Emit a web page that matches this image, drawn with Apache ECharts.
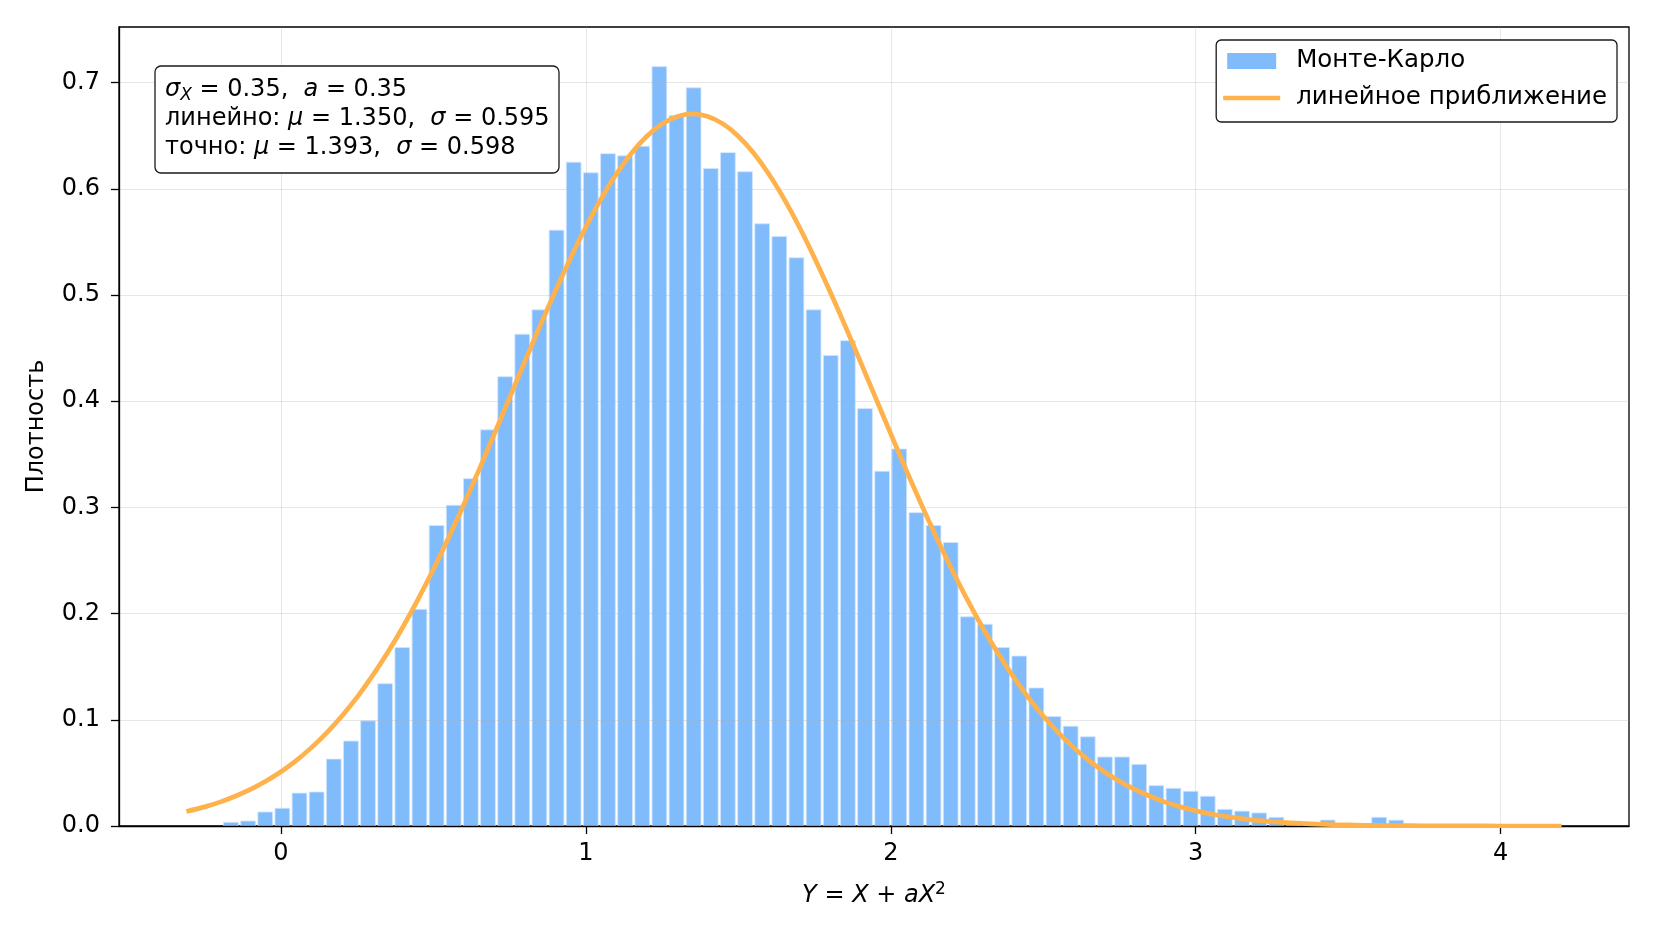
<!DOCTYPE html>
<html>
<head>
<meta charset="utf-8">
<title>Монте-Карло и линейное приближение</title>
<script src="https://cdn.jsdelivr.net/npm/echarts@6/dist/echarts.min.js"></script>
<style>
  html, body { margin: 0; padding: 0; background: #fff; }
  #chart { width: 1656px; height: 936px; }
</style>
</head>
<body>
<div id="chart"></div>
<script>
// гистограмма: равные интервалы от binStart шириной binWidth
const binStart = -0.192
const binWidth = 0.0562
const density = [
  0.0035, 0.0047, 0.0132, 0.0167, 0.031, 0.032, 0.063, 0.080, 0.099, 0.134,
  0.168, 0.204, 0.283, 0.302, 0.327, 0.373, 0.423, 0.463, 0.486, 0.561,
  0.625, 0.615, 0.633, 0.631, 0.640, 0.715, 0.669, 0.695, 0.619, 0.634,
  0.616, 0.567, 0.555, 0.535, 0.486, 0.443, 0.457, 0.393, 0.334, 0.355,
  0.295, 0.283, 0.267, 0.197, 0.190, 0.168, 0.160, 0.130, 0.103, 0.094,
  0.084, 0.065, 0.065, 0.058, 0.038, 0.0355, 0.0327, 0.028, 0.0157, 0.014,
  0.0123, 0.0082, 0.004, 0.003, 0.0056, 0.002, 0.002, 0.0082, 0.0055
]

// линейное приближение (нормальная плотность)
const curveX = [
  -0.31, -0.25, -0.2, -0.15, -0.1, -0.05, 0.0, 0.05, 0.1, 0.15, 0.2, 0.25, 0.3, 0.35, 0.4, 0.45,
  0.5, 0.55, 0.6, 0.65, 0.7, 0.75, 0.8, 0.85, 0.9, 0.95, 1.0, 1.05, 1.1, 1.15, 1.2, 1.25, 1.3, 1.35,
  1.4, 1.45, 1.5, 1.55, 1.6, 1.65, 1.7, 1.75, 1.8, 1.85, 1.9, 1.95, 2.0, 2.05, 2.1, 2.15, 2.2, 2.25,
  2.3, 2.35, 2.4, 2.45, 2.5, 2.55, 2.6, 2.65, 2.7, 2.75, 2.8, 2.85, 2.9, 2.95, 3.0, 3.05, 3.1, 3.15,
  3.2, 3.25, 3.3, 3.35, 3.4, 3.45, 3.5, 3.55, 3.6, 3.7, 3.8, 3.9, 4.0, 4.2
]
const curveY = [
  0.0137, 0.0180, 0.0225, 0.0280, 0.0344, 0.0421, 0.0511, 0.0616, 0.0738, 0.0877, 0.1036, 0.1214,
  0.1413, 0.1633, 0.1874, 0.2136,
  0.2417, 0.2716, 0.3030, 0.3356, 0.3692, 0.4033, 0.4374, 0.4711, 0.5037, 0.5349, 0.5640, 0.5905,
  0.6139, 0.6337, 0.6495, 0.6611, 0.6681, 0.6705,
  0.6681, 0.6611, 0.6495, 0.6337, 0.6139, 0.5905, 0.5640, 0.5349, 0.5037, 0.4711, 0.4374, 0.4033,
  0.3692, 0.3356, 0.3030, 0.2716, 0.2417, 0.2136,
  0.1874, 0.1633, 0.1413, 0.1214, 0.1036, 0.0877, 0.0738, 0.0616, 0.0511, 0.0421, 0.0344, 0.0280,
  0.0225, 0.0180, 0.0143, 0.0113, 0.0089, 0.0069,
  0.0053, 0.0041, 0.0031, 0.0024, 0.0018, 0.0013, 0.0010, 0.0007, 0.0005, 0.0003, 0.0001, 0.0001,
  0.0000, 0.0000
]

const xTicks = [0, 1, 2, 3, 4]
const yTicks = [0, 0.1, 0.2, 0.3, 0.4, 0.5, 0.6, 0.7]

// параметры для подписи
const sigmaX = 0.35
const aCoef = 0.35
const linMu = 1.350, linSigma = 0.595
const exactMu = 1.393, exactSigma = 0.598

const FONT = 'DejaVu Sans'
const FS = 24
const BAR_COLOR = '#80bbfc'
const LINE_COLOR = '#ffb24c'

const binData = density.map((v, i) => [binStart + i * binWidth, binStart + (i + 1) * binWidth, v])
const curveData = curveX.map((x, i) => [x, curveY[i]])

function renderBin(params, api) {
  const top = api.coord([api.value(0), api.value(2)])
  const bottom = api.coord([api.value(1), 0])
  return {
    type: 'rect',
    shape: {
      x: top[0] + 1.2,
      y: top[1],
      width: bottom[0] - top[0] - 2.4,
      height: bottom[1] - top[1]
    },
    style: { fill: BAR_COLOR, stroke: '#d2e5fd', lineWidth: 0.8 }
  }
}

const infoText = [
  '{i|σ}{sub|X}{n| = ' + sigmaX.toFixed(2) + ',  }{i|a}{n| = ' + aCoef.toFixed(2) + '}',
  '{n|линейно: }{i|μ}{n| = ' + linMu.toFixed(3) + ',  }{i|σ}{n| = ' + linSigma.toFixed(3) + '}',
  '{n|точно: }{i|μ}{n| = ' + exactMu.toFixed(3) + ',  }{i|σ}{n| = ' + exactSigma.toFixed(3) + '}'
].join('\n')

// значки легенды: крайние крошечные треугольники задают рамку 57x16
const rectIcon = 'path://M0,0L0.01,0L0,0.01Z M4,0L53,0L53,16L4,16Z M57,16L56.99,16L57,15.99Z'
const lineIcon = 'path://M0,0L0.01,0L0,0.01Z M0,5.7L57,5.7L57,10.3L0,10.3Z M57,16L56.99,16L57,15.99Z'

const axisCommon = {
  z: 2,
  axisLine: { show: true, onZero: false, lineStyle: { color: '#000', width: 1.3 } },
  splitLine: { show: true, lineStyle: { color: 'rgba(176,176,176,0.3)', width: 1 } }
}
const tickStyle = { show: true, inside: false, length: 8, lineStyle: { color: '#000', width: 1.3 } }

const chart = echarts.init(document.getElementById('chart'))
chart.setOption({
  animation: false,
  backgroundColor: '#fff',
  textStyle: { fontFamily: FONT },
  grid: {
    left: 119, right: 27, top: 27, bottom: 110,
    show: true, borderColor: '#000', borderWidth: 1.3, backgroundColor: 'transparent'
  },
  xAxis: Object.assign({}, axisCommon, {
    type: 'value',
    min: -0.531,
    max: 4.421,
    splitNumber: 5,
    axisTick: Object.assign({}, tickStyle, { customValues: xTicks }),
    axisLabel: {
      customValues: xTicks,
      margin: 16, fontSize: FS, color: '#000', fontFamily: FONT,
      formatter: v => String(v)
    },
    name: '{i|Y}{n| = }{i|X}{n| + }{i|aX}{sup|2}',
    nameLocation: 'middle',
    nameGap: 55,
    nameTextStyle: {
      fontSize: FS, color: '#000', fontFamily: FONT,
      rich: {
        i: { fontStyle: 'italic', fontSize: FS, fontFamily: FONT, color: '#000' },
        n: { fontSize: FS, fontFamily: FONT, color: '#000' },
        sup: { fontSize: 17, fontFamily: FONT, color: '#000', verticalAlign: 'top', lineHeight: 30 }
      }
    }
  }),
  yAxis: Object.assign({}, axisCommon, {
    type: 'value',
    min: 0,
    max: 0.7523,
    splitNumber: 8,
    axisTick: Object.assign({}, tickStyle, { customValues: yTicks }),
    axisLabel: {
      customValues: yTicks,
      margin: 19, fontSize: FS, color: '#000', fontFamily: FONT,
      formatter: v => v.toFixed(1)
    },
    name: 'Плотность',
    nameLocation: 'middle',
    nameGap: 70,
    nameTextStyle: { fontSize: FS, color: '#000', fontFamily: FONT }
  }),
  legend: {
    orient: 'vertical',
    right: 39,
    top: 40,
    padding: [8, 10, 11, 7],
    itemGap: 11,
    itemWidth: 57,
    itemHeight: 16,
    borderColor: '#1a1a1a',
    borderWidth: 1.3,
    borderRadius: 5,
    backgroundColor: '#fff',
    textStyle: { fontFamily: FONT, fontSize: 24.5, color: '#000', lineHeight: 26, padding: [0, 0, 0, 11] },
    data: [
      { name: 'Монте-Карло', icon: rectIcon },
      { name: 'линейное приближение', icon: lineIcon }
    ]
  },
  graphic: [
    {
      type: 'rect',
      z: 100,
      shape: { x: 155, y: 66, width: 404, height: 107, r: 6 },
      style: { fill: '#fff', stroke: '#1a1a1a', lineWidth: 1.3 }
    },
    {
      type: 'text',
      z: 101,
      x: 165,
      y: 75,
      style: {
        text: infoText,
        fontFamily: FONT,
        fontSize: 24,
        lineHeight: 29,
        fill: '#000',
        rich: {
          n: { fontSize: 24, fontFamily: FONT, fill: '#000', lineHeight: 29 },
          i: { fontSize: 24, fontFamily: FONT, fill: '#000', fontStyle: 'italic', lineHeight: 29 },
          sub: { fontSize: 17, fontFamily: FONT, fill: '#000', fontStyle: 'italic', verticalAlign: 'bottom', lineHeight: 22 }
        }
      }
    }
  ],
  series: [
    {
      name: 'Монте-Карло',
      type: 'custom',
      z: 1,
      itemStyle: { color: BAR_COLOR },
      renderItem: renderBin,
      encode: { x: [0, 1], y: 2 },
      data: binData
    },
    {
      name: 'линейное приближение',
      type: 'line',
      z: 3,
      smooth: 0.3,
      symbol: 'none',
      showSymbol: false,
      lineStyle: { color: LINE_COLOR, width: 4.7 },
      itemStyle: { color: LINE_COLOR },
      data: curveData
    }
  ]
})
</script>
</body>
</html>
